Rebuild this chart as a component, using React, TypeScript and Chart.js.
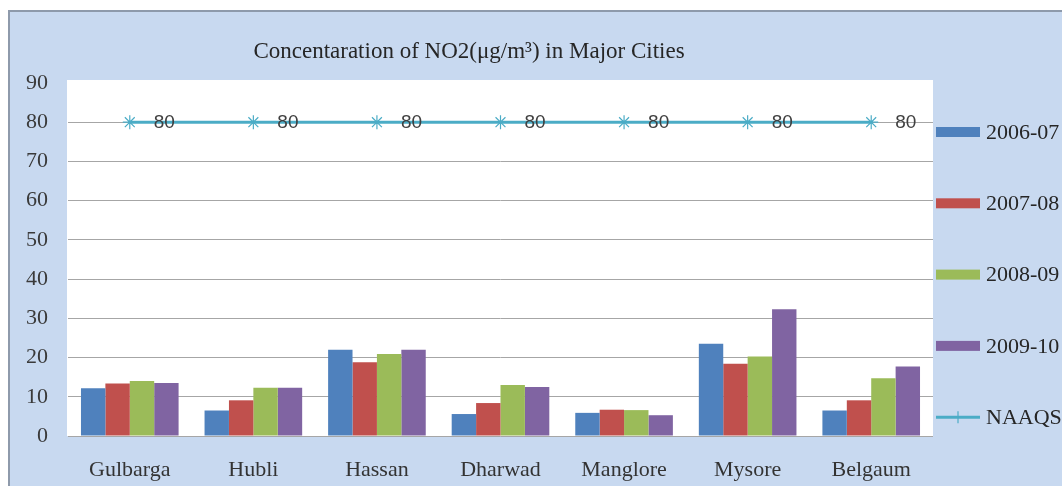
import React, { useEffect, useRef } from "react";
import { Chart, registerables } from "chart.js";

Chart.register(...registerables);

// Annual mean NO2 concentration (µg/m³) by city and period
const cities = ["Gulbarga", "Hubli", "Hassan", "Dharwad", "Manglore", "Mysore", "Belgaum"];
const s2006_07 = [12.2, 6.5, 22.0, 5.6, 5.9, 23.5, 6.5];
const s2007_08 = [13.4, 9.1, 18.8, 8.4, 6.7, 18.4, 9.1];
const s2008_09 = [14.0, 12.3, 20.9, 13.0, 6.6, 20.3, 14.7];
const s2009_10 = [13.5, 12.3, 22.0, 12.5, 5.3, 32.3, 17.7];
const naaqs = [80, 80, 80, 80, 80, 80, 80];

const seriesLabels = ["2006-07", "2007-08", "2008-09", "2009-10", "NAAQS"];
const seriesColors = ["#4f81bd", "#c0504d", "#9bbb59", "#8064a2", "#4bacc6"];
const yTicks = [0, 10, 20, 30, 40, 50, 60, 70, 80, 90];

const titleText = "Concentaration of NO2(\u03bcg/m\u00b3) in Major Cities";
const SERIF = "'Liberation Serif', 'Times New Roman', serif";
const SANS = "'Liberation Sans', Arial, sans-serif";

// Panel background, outer frame and white plot area
const backgroundPlugin = {
  id: "panelBackground",
  beforeDraw(chart: any) {
    const { ctx, width, height, chartArea } = chart;
    ctx.save();
    ctx.fillStyle = "#ffffff";
    ctx.fillRect(0, 0, width, height);
    ctx.fillStyle = "#c8d9f0";
    ctx.fillRect(9, 11, width - 9, height - 11);
    ctx.strokeStyle = "#8e9aab";
    ctx.lineWidth = 2;
    ctx.beginPath();
    ctx.moveTo(width, 11);
    ctx.lineTo(9, 11);
    ctx.lineTo(9, height);
    ctx.stroke();
    ctx.fillStyle = "#ffffff";
    ctx.fillRect(chartArea.left - 1, chartArea.top - 3, chartArea.right - chartArea.left + 1, chartArea.bottom - chartArea.top + 3);
    ctx.restore();
  },
};

// "80" value labels to the right of each NAAQS marker
const valueLabelPlugin = {
  id: "naaqsLabels",
  afterDatasetsDraw(chart: any) {
    const { ctx } = chart;
    const idx = chart.data.datasets.findIndex((d: any) => d.label === "NAAQS");
    if (idx < 0) return;
    const meta = chart.getDatasetMeta(idx);
    const data = chart.data.datasets[idx].data;
    ctx.save();
    ctx.font = `19px ${SANS}`;
    ctx.fillStyle = "#404040";
    ctx.textAlign = "left";
    ctx.textBaseline = "middle";
    meta.data.forEach((pt: any, i: number) => {
      ctx.fillText(String(data[i]), pt.x + 24, pt.y + 1);
    });
    ctx.restore();
  },
};

// Title and right-hand legend
const titleLegendPlugin = {
  id: "titleLegend",
  afterDraw(chart: any) {
    const { ctx } = chart;
    ctx.save();
    ctx.font = `23px ${SERIF}`;
    ctx.fillStyle = "#262626";
    ctx.textAlign = "center";
    ctx.textBaseline = "middle";
    ctx.fillText(titleText, 469, 52);

    const x0 = 936;
    const boxW = 44;
    const startY = 132;
    const step = 71.3;
    ctx.font = `22px ${SERIF}`;
    ctx.textAlign = "left";
    seriesLabels.forEach((label, i) => {
      const cy = startY + i * step;
      if (label === "NAAQS") {
        ctx.strokeStyle = seriesColors[i];
        ctx.lineWidth = 3;
        ctx.beginPath();
        ctx.moveTo(x0, cy);
        ctx.lineTo(x0 + boxW, cy);
        ctx.stroke();
        ctx.lineWidth = 1.2;
        ctx.beginPath();
        ctx.moveTo(x0 + boxW / 2, cy - 6);
        ctx.lineTo(x0 + boxW / 2, cy + 6);
        ctx.stroke();
      } else {
        ctx.fillStyle = seriesColors[i];
        ctx.fillRect(x0, cy - 5, boxW, 10);
      }
      ctx.fillStyle = "#262626";
      ctx.fillText(label, x0 + boxW + 6, cy + 1);
    });
    ctx.restore();
  },
};

export default function App() {
  const canvasRef = useRef<HTMLCanvasElement | null>(null);

  useEffect(() => {
    if (!canvasRef.current) return;
    const barSeries = [s2006_07, s2007_08, s2008_09, s2009_10];
    const chart = new Chart(canvasRef.current, {
      type: "bar",
      data: {
        labels: cities,
        datasets: [
          {
            type: "line",
            label: seriesLabels[4],
            data: naaqs,
            borderColor: seriesColors[4],
            backgroundColor: seriesColors[4],
            borderWidth: 3,
            pointStyle: "star",
            pointRadius: 7,
            pointBorderWidth: 1.2,
            pointBorderColor: seriesColors[4],
            order: 0,
          } as any,
          ...barSeries.map((values, i) => ({
            type: "bar" as const,
            label: seriesLabels[i],
            data: values,
            backgroundColor: seriesColors[i],
            borderWidth: 0,
            categoryPercentage: 0.79,
            barPercentage: 1.0,
            order: 1,
          })),
        ],
      },
      options: {
        responsive: false,
        animation: false,
        layout: { padding: { left: 0, right: 129, top: 83, bottom: 0 } },
        plugins: {
          legend: { display: false },
          title: { display: false },
          tooltip: { enabled: false },
        },
        scales: {
          x: {
            grid: { display: false, drawTicks: false },
            border: { display: false },
            ticks: {
              font: { family: SERIF, size: 22 },
              color: "#333333",
              padding: 21,
            },
            afterFit: (s: any) => {
              s.height = 50;
            },
          },
          y: {
            min: 0,
            max: 90,
            afterBuildTicks: (s: any) => {
              s.ticks = yTicks.map((v) => ({ value: v }));
            },
            grid: {
              drawTicks: false,
              color: (c: any) => (c.tick && c.tick.value === 90 ? "rgba(0,0,0,0)" : "#a6a6a6"),
              lineWidth: 1,
            },
            border: { display: false },
            ticks: {
              font: { family: SERIF, size: 22 },
              color: "#3a3a3a",
              padding: 20,
            },
            afterFit: (s: any) => {
              s.width = 68;
            },
          },
        },
      },
      plugins: [backgroundPlugin, valueLabelPlugin, titleLegendPlugin],
    });
    return () => chart.destroy();
  }, []);

  return (
    <div style={{ position: "fixed", left: 0, top: 0, width: 1062, height: 486 }}>
      <canvas ref={canvasRef} width={1062} height={486} style={{ display: "block" }} />
    </div>
  );
}
